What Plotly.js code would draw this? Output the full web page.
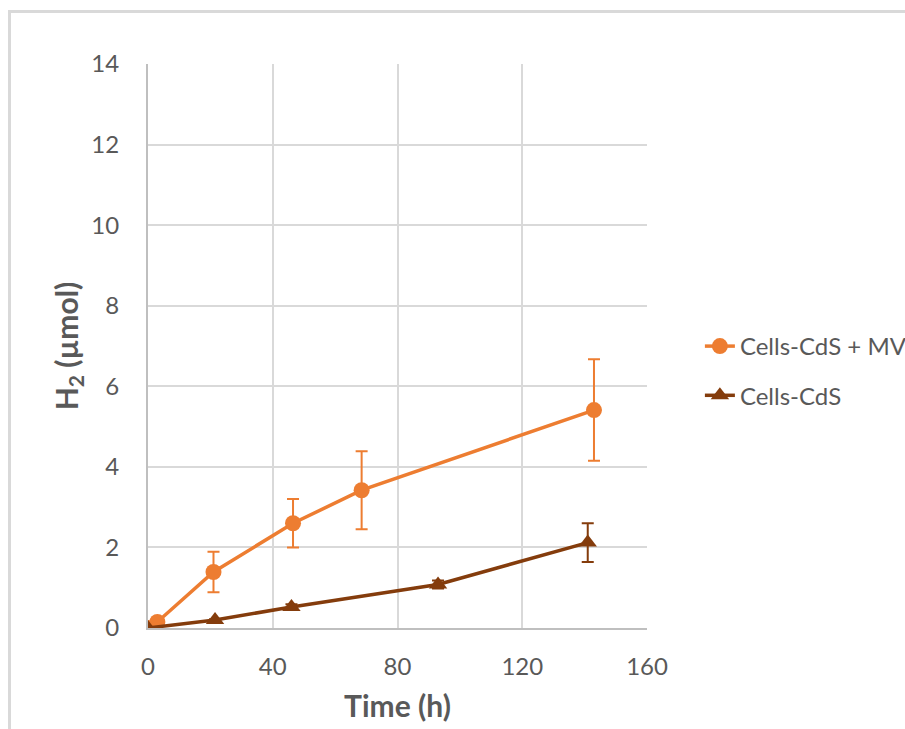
<!DOCTYPE html>
<html>
<head>
<meta charset="utf-8">
<script src="https://cdn.plot.ly/plotly-3.0.1.min.js"></script>
<style>
  html, body { margin: 0; padding: 0; background: #ffffff; overflow: hidden; }
  #frame { position: absolute; left: 8px; top: 10px; width: 1200px; height: 1200px;
           border-left: 3px solid #d9d9d9; border-top: 3px solid #d9d9d9; }
  #chart { position: absolute; left: 0; top: 0; width: 905px; height: 729px; }
</style>
</head>
<body>
<div id="frame"></div>
<div id="chart"></div>
<script>
// Cells-CdS + MV
const mvTime  = [0, 3, 21, 46.5, 68.5, 143];
const mvH2    = [0, 0.15, 1.39, 2.6, 3.42, 5.41];
const mvErr   = [0, 0, 0.5, 0.6, 0.97, 1.26];
// Cells-CdS
const cdsTime = [0, 21.5, 46, 93, 141];
const cdsH2   = [0, 0.2, 0.52, 1.08, 2.12];
const cdsErr  = [0, 0.02, 0.07, 0.1, 0.48];

const seriesNames = ['Cells-CdS + MV', 'Cells-CdS'];
const xTicks = [0, 40, 80, 120, 160];
const yTicks = [0, 2, 4, 6, 8, 10, 12, 14];

const orange = '#ED7D31';
const brown = '#843C0C';
const grey = '#595959';
const font = 'Lato, "Open Sans", sans-serif';

const traces = [
  {
    x: mvTime, y: mvH2, name: seriesNames[0], legendgroup: 'a',
    type: 'scatter', mode: 'lines+markers',
    line: {color: orange, width: 3.5},
    marker: {color: orange, size: 16, symbol: 'circle'},
    error_y: {type: 'data', array: mvErr, visible: true, color: orange, thickness: 2, width: 6}
  },
  {
    x: cdsTime, y: cdsH2, name: seriesNames[1], legendgroup: 'b',
    type: 'scatter', mode: 'lines+markers',
    line: {color: brown, width: 3.5},
    marker: {color: brown, size: 16, symbol: 'triangle-up'},
    error_y: {type: 'data', array: cdsErr, visible: true, color: brown, thickness: 2, width: 6}
  }
];

const layout = {
  width: 905, height: 729,
  margin: {l: 148, r: 258, t: 64, b: 101, autoexpand: false},
  paper_bgcolor: 'rgba(0,0,0,0)',
  plot_bgcolor: '#ffffff',
  font: {family: font, color: grey, size: 24},
  showlegend: true,
  legend: {
    x: 1.106, xanchor: 'left', y: 0.539, yanchor: 'top',
    traceorder: 'grouped', tracegroupgap: 15,
    font: {family: font, color: grey, size: 24},
    bgcolor: 'rgba(0,0,0,0)'
  },
  xaxis: {
    range: [0, 160], tickvals: xTicks, ticktext: xTicks.map(String),
    showgrid: true, gridcolor: '#d9d9d9', gridwidth: 2,
    zeroline: false, showline: true, linecolor: '#bfbfbf', linewidth: 2,
    ticks: '', ticklabelstandoff: 16,
    tickfont: {family: font, color: grey, size: 24},
    title: {text: 'Time (h)', font: {family: font, color: grey, size: 30, weight: 'bold'}, standoff: 17}
  },
  yaxis: {
    range: [0, 14], tickvals: yTicks, ticktext: yTicks.map(String),
    showgrid: true, gridcolor: '#d9d9d9', gridwidth: 2,
    zeroline: false, showline: true, linecolor: '#bfbfbf', linewidth: 2,
    ticks: '', ticklabelstandoff: 22,
    tickfont: {family: font, color: grey, size: 24},
    title: {text: 'H<sub>2</sub> (µmol)', font: {family: font, color: grey, size: 30, weight: 'bold'}, standoff: 4}
  }
};

Plotly.newPlot('chart', traces, layout, {displayModeBar: false, staticPlot: true});
</script>
</body>
</html>
